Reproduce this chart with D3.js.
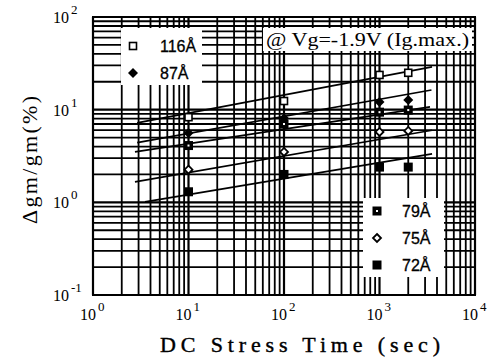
<!DOCTYPE html>
<html><head><meta charset="utf-8">
<script src="https://cdn.jsdelivr.net/npm/d3@7"></script>
<style>body{margin:0;background:#fff}svg{display:block}</style>
</head><body>
<script>
// ---- data ----
const times = [10, 100, 1000, 2000];
const seriesNames = ["116Å", "87Å", "79Å", "75Å", "72Å"];
const v116 = [8.3, 12.4, 23.7, 25];
const v87 = [5.6, 8.1, 12.1, 12.7];
const v79 = [4.1, 7.0, 9.4, 9.9];
const v75 = [2.25, 3.5, 5.75, 5.9];
const v72 = [1.3, 2.0, 2.4, 2.4];
// fitted lines: [tStart, vStart, tEnd, vEnd]
const fit116 = [2.9, 7.2, 3550, 28.9];
const fit87 = [2.9, 4.4, 3500, 16.3];
const fit79 = [2.75, 3.5, 3380, 10.7];
const fit75 = [2.75, 1.66, 3550, 6.0];
const fit72 = [3.5, 1.01, 3550, 3.33];
const xTickExp = [0, 1, 2, 3, 4];
const yTickExp = [-1, 0, 1, 2];
const annotation = "@ Vg=-1.9V (Ig.max.)";
const xTitle = "DC Stress Time (sec)";
const yTitle = "Δgm/gm(%)";

const W = 496, H = 358;
const L = 93, R = 475, T = 17, B = 295;
const x = d3.scaleLog().domain([1, 1e4]).range([L, R]);
const y = d3.scaleLog().domain([0.1, 100]).range([B, T]);

const svg = d3.select("body").append("svg").attr("width", W).attr("height", H);
const serif = "'Liberation Serif','DejaVu Serif',serif";
const sans = "'Liberation Sans',Arial,sans-serif";

// grid
const g = svg.append("g");
const xGrid = [];
for (let e = 0; e < 4; e++) for (let k = 1; k <= 9; k++) xGrid.push({v: k * Math.pow(10, e), major: k === 1});
xGrid.push({v: 1e4, major: true});
const yGrid = [];
for (let e = -1; e < 2; e++) for (let k = 1; k <= 9; k++) yGrid.push({v: k * Math.pow(10, e), major: k === 1});
yGrid.push({v: 100, major: true});

g.selectAll(".vx").data(xGrid).join("line")
  .attr("x1", d => x(d.v)).attr("x2", d => x(d.v)).attr("y1", T).attr("y2", B)
  .attr("stroke", "#000").attr("stroke-width", d => d.major ? 2.2 : 1.8);
g.selectAll(".hy").data(yGrid).join("line")
  .attr("y1", d => y(d.v)).attr("y2", d => y(d.v)).attr("x1", L).attr("x2", R)
  .attr("stroke", "#000").attr("stroke-width", d => d.major ? 2.2 : 1.8);

// white boxes
svg.append("rect").attr("x", 121).attr("y", 28).attr("width", 81).attr("height", 57).attr("fill", "#fff");
svg.append("rect").attr("x", 263).attr("y", 28).attr("width", 209).attr("height", 23).attr("fill", "#fff");
svg.append("rect").attr("x", 363).attr("y", 198).attr("width", 81).attr("height", 79).attr("fill", "#fff");

// frame
svg.append("rect").attr("x", L).attr("y", T).attr("width", R - L).attr("height", B - T)
  .attr("fill", "none").attr("stroke", "#000").attr("stroke-width", 2);

// fitted lines
const fits = [fit116, fit87, fit79, fit75, fit72];
svg.selectAll(".fit").data(fits).join("line")
  .attr("x1", d => x(d[0])).attr("y1", d => y(d[1]))
  .attr("x2", d => x(d[2])).attr("y2", d => y(d[3]))
  .attr("stroke", "#000").attr("stroke-width", 1.7);

// markers
function drawMarker(sel, type) {
  if (type === 0) { // open square
    sel.append("rect").attr("x", -3.5).attr("y", -3.5).attr("width", 7).attr("height", 7)
      .attr("fill", "#fff").attr("stroke", "#000").attr("stroke-width", 1.6);
  } else if (type === 1) { // filled diamond
    sel.append("path").attr("d", "M0,-5L5,0L0,5L-5,0Z").attr("fill", "#000");
  } else if (type === 2) { // filled square with dot
    sel.append("rect").attr("x", -4.5).attr("y", -4.5).attr("width", 9).attr("height", 9).attr("fill", "#000");
    sel.append("rect").attr("x", -1).attr("y", -1).attr("width", 2).attr("height", 2).attr("fill", "#fff");
  } else if (type === 3) { // open diamond
    sel.append("path").attr("d", "M0,-4L4,0L0,4L-4,0Z").attr("fill", "#fff").attr("stroke", "#000").attr("stroke-width", 1.8);
  } else { // filled square
    sel.append("rect").attr("x", -4.5).attr("y", -4.5).attr("width", 9).attr("height", 9).attr("fill", "#000");
  }
}
const allVals = [v116, v87, v79, v75, v72];
allVals.forEach((vals, si) => {
  vals.forEach((v, i) => {
    const m = svg.append("g").attr("transform", `translate(${x(times[i])},${y(v)})`);
    drawMarker(m, si);
  });
});

// legends
const leg1 = [{i: 0, y: 46}, {i: 1, y: 73}];
leg1.forEach(d => {
  drawMarker(svg.append("g").attr("transform", `translate(133,${d.y})`), d.i);
  svg.append("text").attr("x", 160).attr("y", d.y + 6).attr("font-family", sans).attr("font-size", 16)
    .attr("stroke", "#000").attr("stroke-width", 0.3).text(seriesNames[d.i]);
});
const leg2 = [{i: 2, y: 211}, {i: 3, y: 238}, {i: 4, y: 265}];
leg2.forEach(d => {
  drawMarker(svg.append("g").attr("transform", `translate(377,${d.y})`), d.i);
  svg.append("text").attr("x", 402).attr("y", d.y + 6).attr("font-family", sans).attr("font-size", 16)
    .attr("stroke", "#000").attr("stroke-width", 0.3).text(seriesNames[d.i]);
});

// annotation
svg.append("text").attr("x", 266).attr("y", 46).attr("font-family", serif).attr("font-size", 18)
  .attr("textLength", 203).attr("lengthAdjust", "spacingAndGlyphs").text(annotation);

// tick labels
xTickExp.forEach(e => {
  const px = x(Math.pow(10, e));
  svg.append("text").attr("x", px + 3).attr("y", 320).attr("text-anchor", "end")
    .attr("font-family", serif).attr("font-size", 16).text("10");
  svg.append("text").attr("x", px + 5).attr("y", 311)
    .attr("font-family", serif).attr("font-size", 13).text(String(e));
});
yTickExp.forEach(e => {
  const py = y(Math.pow(10, e));
  svg.append("text").attr("x", 69).attr("y", py + 6).attr("text-anchor", "end")
    .attr("font-family", serif).attr("font-size", 16).text("10");
  svg.append("text").attr("x", 71).attr("y", py - 3)
    .attr("font-family", serif).attr("font-size", 13).text(e < 0 ? "-" + Math.abs(e) : String(e));
});

// titles
svg.append("text").attr("x", 160).attr("y", 352).attr("font-family", serif).attr("font-size", 22)
  .attr("stroke", "#000").attr("stroke-width", 0.4)
  .attr("textLength", 280).attr("lengthAdjust", "spacing").text(xTitle);
svg.append("text").attr("transform", "translate(37,160) rotate(-90)").attr("text-anchor", "middle")
  .attr("font-family", serif).attr("font-size", 22)
  .attr("textLength", 128).attr("lengthAdjust", "spacing").text(yTitle);
</script>
</body></html>
